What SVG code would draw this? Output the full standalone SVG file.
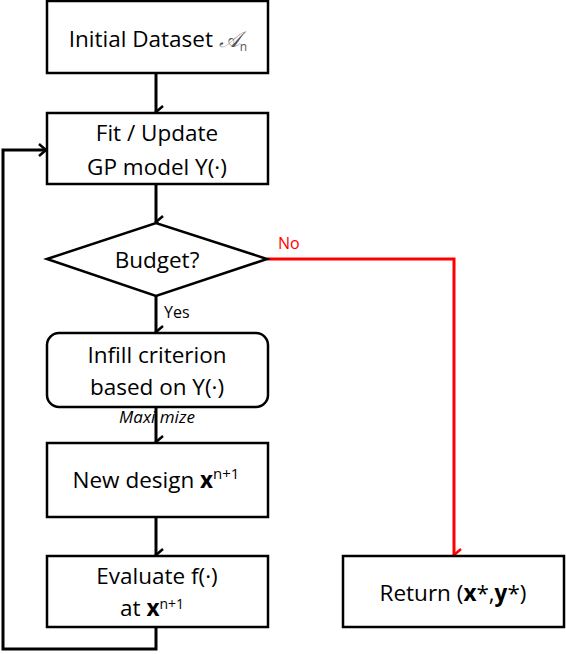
<svg xmlns="http://www.w3.org/2000/svg" width="566" height="654" viewBox="0 0 566 654">
<style>
.box{fill:#fff;stroke:#000;stroke-width:2.5}
.t{font-family:"Open Sans","Liberation Sans",sans-serif;font-size:22.5px;fill:#000;text-anchor:middle}
.s{font-family:"Open Sans","Liberation Sans",sans-serif;font-size:16px}
.c{fill:none;stroke:#000;stroke-width:3}
.r{fill:none;stroke:#f00;stroke-width:3}
</style>
<defs>
<marker id="ab" markerWidth="14" markerHeight="14" refX="7" refY="10" orient="auto-start-reverse" markerUnits="userSpaceOnUse" viewBox="0 0 14 14">
<path d="M1,3 L7,10 L13,3" fill="none" stroke="#000" stroke-width="2.5"/>
</marker>
<marker id="ar" markerWidth="14" markerHeight="14" refX="7" refY="10" orient="auto-start-reverse" markerUnits="userSpaceOnUse" viewBox="0 0 14 14">
<path d="M1,3 L7,10 L13,3" fill="none" stroke="#f00" stroke-width="2.5"/>
</marker>
<marker id="abr" markerWidth="14" markerHeight="14" refX="10" refY="7" orient="auto" markerUnits="userSpaceOnUse" viewBox="0 0 14 14">
<path d="M3,1 L10,7 L3,13" fill="none" stroke="#000" stroke-width="2.5"/>
</marker>
</defs>
<g id="connectors">
<path class="c" d="M156,73 V112" marker-end="url(#ab)"/>
<path class="c" d="M156,184 V222" marker-end="url(#ab)"/>
<path class="c" d="M156,296 V332" marker-end="url(#ab)"/>
<path class="c" d="M156,407 V442" marker-end="url(#ab)"/>
<path class="c" d="M156,517 V555" marker-end="url(#ab)"/>
<path class="c" d="M156,627 V649 H3 V150 H46" marker-end="url(#abr)"/>
<path class="r" d="M267,259 H454 V555" marker-end="url(#ar)"/>
<text x="278" y="249" class="s" fill="#f00">No</text>
<text x="164" y="318" class="s" fill="#000">Yes</text>
<text x="157" y="423" class="s" text-anchor="middle" font-style="italic" font-size="17px" style="font-size:17px">Maxi mize</text>
</g>
<g id="initial">
<rect class="box" x="47" y="1" width="221" height="72"/>
<text class="t" x="158" y="47">Initial Dataset <tspan font-family="'Liberation Serif',serif" font-style="italic" fill="#555">𝒜</tspan><tspan font-size="12" dy="4" fill="#555">n</tspan></text>
</g>
<g id="fit">
<rect class="box" x="47" y="113" width="221" height="71"/>
<text class="t" x="157" y="141">Fit / Update</text>
<text class="t" x="157" y="175">GP model Y(·)</text>
</g>
<g id="budget">
<polygon class="box" points="47,259 156,223 267,259 156,296" stroke-width="1.5"/>
<text class="t" x="157" y="268">Budget?</text>
</g>
<g id="infill">
<rect class="box" x="47" y="333" width="221" height="74" rx="12"/>
<text class="t" x="157" y="363">Infill criterion</text>
<text class="t" x="157" y="395">based on Y(·)</text>
</g>
<g id="newdesign">
<rect class="box" x="47" y="443" width="221" height="74"/>
<text class="t" x="156" y="488">New design <tspan font-weight="bold">x</tspan><tspan font-size="15" dy="-9">n+1</tspan></text>
</g>
<g id="evaluate">
<rect class="box" x="47" y="556" width="221" height="71"/>
<text class="t" x="157" y="584">Evaluate f(·)</text>
<text class="t" x="152" y="616">at <tspan font-weight="bold">x</tspan><tspan font-size="14" dy="-7">n+1</tspan></text>
</g>
<g id="return">
<rect class="box" x="343" y="556" width="221" height="71"/>
<text class="t" x="453" y="601">Return (<tspan font-weight="bold">x</tspan>*,<tspan font-weight="bold">y</tspan>*)</text>
</g>
</svg>
